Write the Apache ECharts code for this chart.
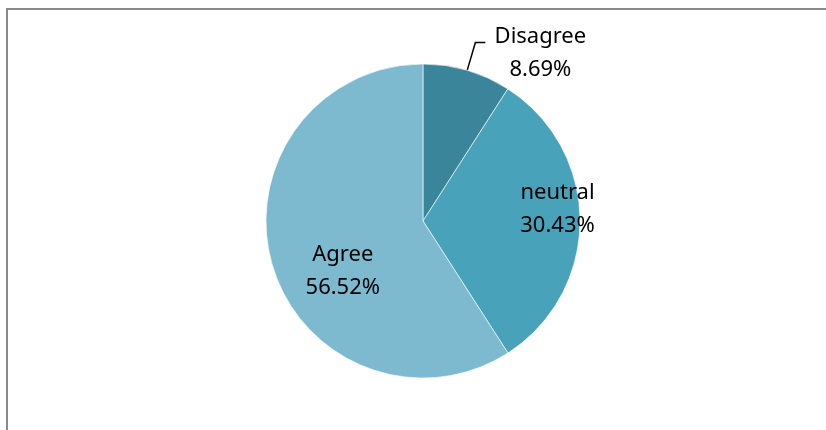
<!DOCTYPE html>
<html>
<head>
<meta charset="utf-8">
<script src="https://cdn.jsdelivr.net/npm/echarts@6/dist/echarts.min.js"></script>
<style>
html,body{margin:0;padding:0;background:#fff;}
#chart{width:826px;height:430px;}
</style>
</head>
<body>
<div id="chart"></div>
<script>
const categories = ['Disagree', 'neutral', 'Agree'];
const percents = [8.69, 30.43, 56.52];
const colors = ['#3a8599', '#48a2ba', '#7dbad0'];

const chart = echarts.init(document.getElementById('chart'));
const font = 'Noto Sans';

const labelOffsets = [[0, 0], [53, -12], [-2, 27]];

const data = categories.map((name, i) => {
  const item = { name: name, value: percents[i], itemStyle: { color: colors[i] } };
  if (i === 0) {
    item.label = {
      position: 'outside',
      formatter: '{a|{b}}\n{a|{c}%}',
      padding: [22, 0, 0, 0],
      rich: { a: { width: 100, align: 'center', fontSize: 22, lineHeight: 33, fontFamily: font, color: '#000' } }
    };
    item.labelLine = { show: true, length: 29, length2: 10, lineStyle: { color: '#000', width: 1.5 } };
  } else {
    item.label = {
      position: 'inside',
      formatter: '{b}\n{c}%',
      offset: labelOffsets[i]
    };
    item.labelLine = { show: false };
  }
  return item;
});

chart.setOption({
  animation: false,
  backgroundColor: '#fff',
  graphic: [{
    type: 'rect',
    shape: { x: 7, y: 9, width: 900, height: 500 },
    style: { fill: 'none', stroke: '#8a8a8a', lineWidth: 2 },
    silent: true
  }],
  series: [{
    type: 'pie',
    center: [423, 221],
    radius: [0, 157],
    startAngle: 90,
    clockwise: true,
    avoidLabelOverlap: false,
    itemStyle: { borderColor: '#ffffff', borderWidth: 0.6 },
    label: {
      fontSize: 22,
      lineHeight: 33,
      fontFamily: font,
      color: '#000',
      align: 'center'
    },
    data: data
  }]
});
</script>
</body>
</html>
